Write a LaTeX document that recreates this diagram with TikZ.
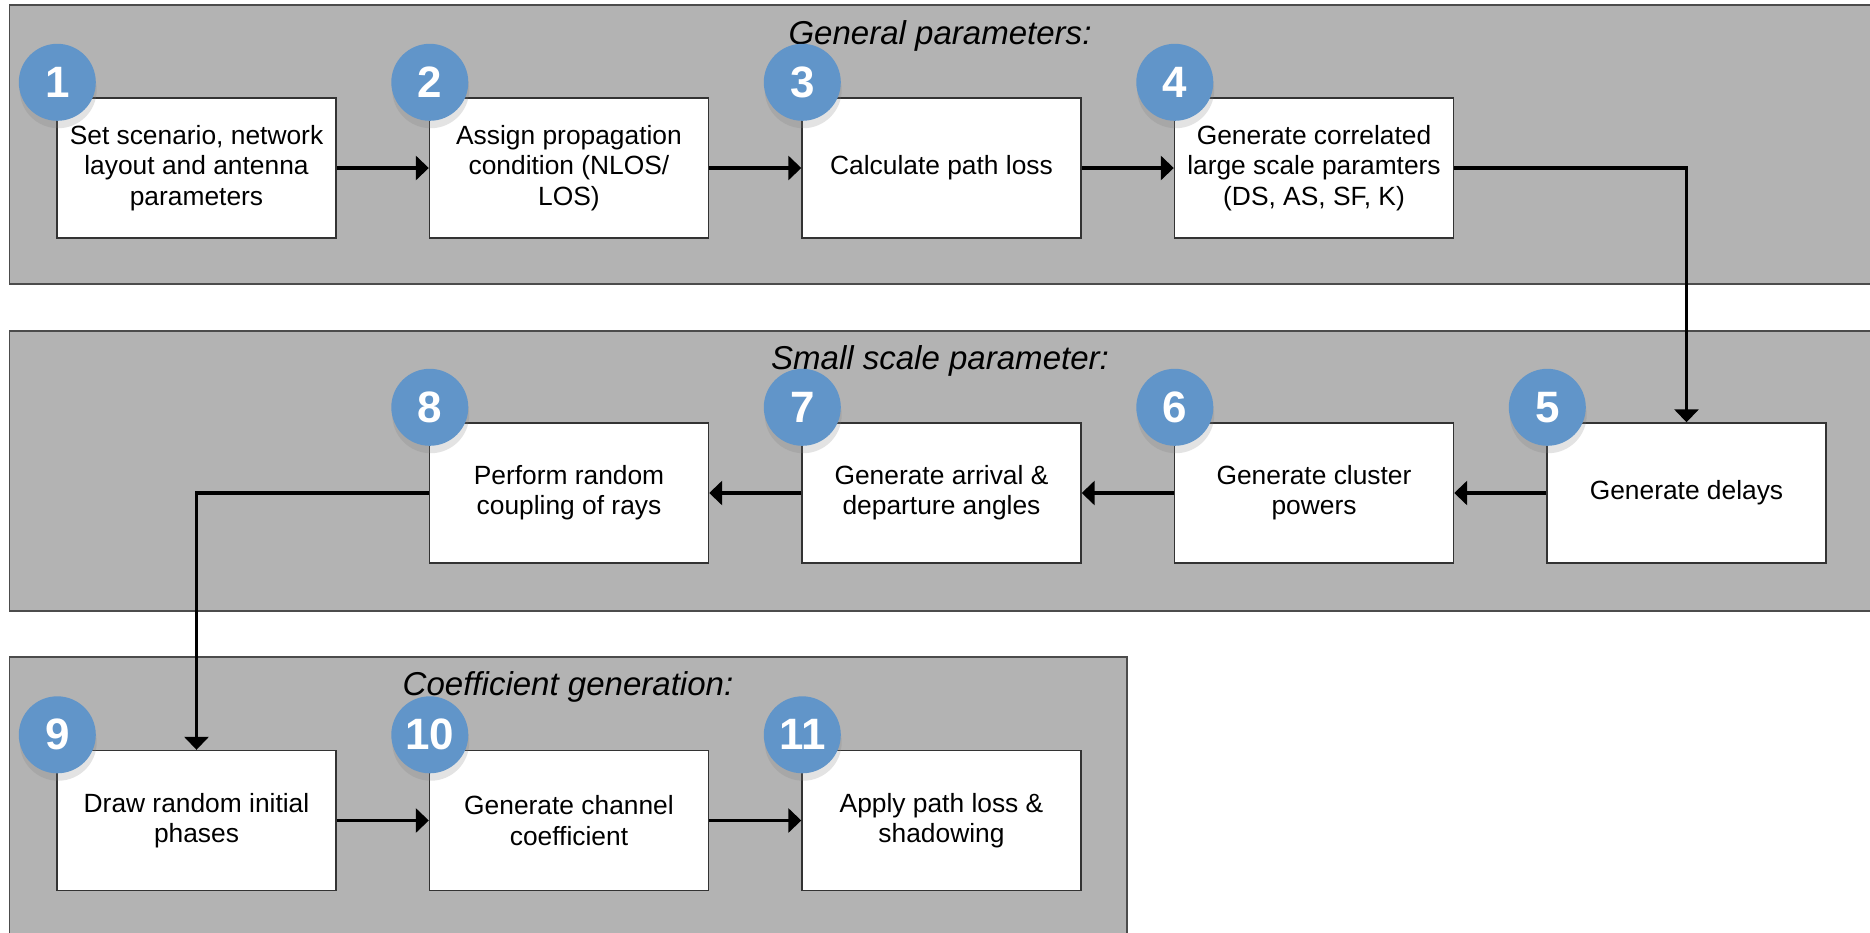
\documentclass[tikz,border=0pt]{standalone}
\usepackage{fontspec}
\setmainfont{Liberation Sans}
\usetikzlibrary{arrows.meta,shadows}
\definecolor{panelgray}{RGB}{179,179,179}
\definecolor{badgeblue}{RGB}{97,149,201}

\begin{document}
\begin{tikzpicture}[
  panel/.style={draw=black!70,fill=panelgray,line width=0.5pt},
  stage/.style={draw=black!80,fill=white,line width=0.4pt,minimum width=2.79cm,
    minimum height=1.40cm,align=center,inner sep=0pt,font=\fontsize{7.5}{8.6}\selectfont},
  badge/.style={circle,fill=badgeblue,minimum size=0.77cm,inner sep=0pt,text=white,
    font=\fontsize{12.5}{12.5}\bfseries\selectfont,
    drop shadow={shadow xshift=0.05ex,shadow yshift=-0.4ex,opacity=0.22}},
  flow/.style={line width=0.9pt,-{Triangle[length=0.13cm,width=0.24cm]}},
  heading/.style={font=\fontsize{9.4}{10}\itshape\selectfont}]
  \useasboundingbox (0,0) rectangle (18.7,-9.32);
  % panels
  \draw[panel] (0.095,-0.05) rectangle (18.75,-2.84);
  \draw[panel] (0.095,-3.31) rectangle (18.75,-6.11);
  \draw[panel] (0.095,-6.57) rectangle (11.27,-9.40);
  \node[heading] (t1) at (9.4,-0.36) {General parameters:};
  \node[heading] (t2) at (9.4,-3.61) {Small scale parameter:};
  \node[heading] (t3) at (5.68,-6.87) {Coefficient generation:};
  % first row
  \node[stage] (b1) at (1.965,-1.68) {Set scenario, network\\layout and antenna\\parameters};
  \node[stage] (b2) at (5.69,-1.68) {Assign propagation\\condition (NLOS/\\LOS)};
  \node[stage] (b3) at (9.415,-1.68) {Calculate path loss};
  \node[stage] (b4) at (13.14,-1.68) {Generate correlated\\large scale paramters\\(DS, AS, SF, K)};
  % second row
  \node[stage] (b5) at (16.865,-4.93) {Generate delays};
  \node[stage] (b6) at (13.14,-4.93) {Generate cluster\\powers};
  \node[stage] (b7) at (9.415,-4.93) {Generate arrival \&\\departure angles};
  \node[stage] (b8) at (5.69,-4.93) {Perform random\\coupling of rays};
  % third row
  \node[stage] (b9) at (1.965,-8.205) {Draw random initial\\phases};
  \node[stage] (b10) at (5.69,-8.205) {Generate channel\\coefficient};
  \node[stage] (b11) at (9.415,-8.205) {Apply path loss \&\\shadowing};
  % arrows
  \draw[flow] (b1) -- (b2);
  \draw[flow] (b2) -- (b3);
  \draw[flow] (b3) -- (b4);
  \draw[flow] (b4.east) -| (b5.north);
  \draw[flow] (b5) -- (b6);
  \draw[flow] (b6) -- (b7);
  \draw[flow] (b7) -- (b8);
  \draw[flow] (b8.west) -| (b9.north);
  \draw[flow] (b9) -- (b10);
  \draw[flow] (b10) -- (b11);
  % numbers
  \foreach \n in {1,...,11}
    \node[badge] (c\n) at ([shift={(0.01,0.15)}]b\n.north west) {\n};
\end{tikzpicture}
\end{document}
